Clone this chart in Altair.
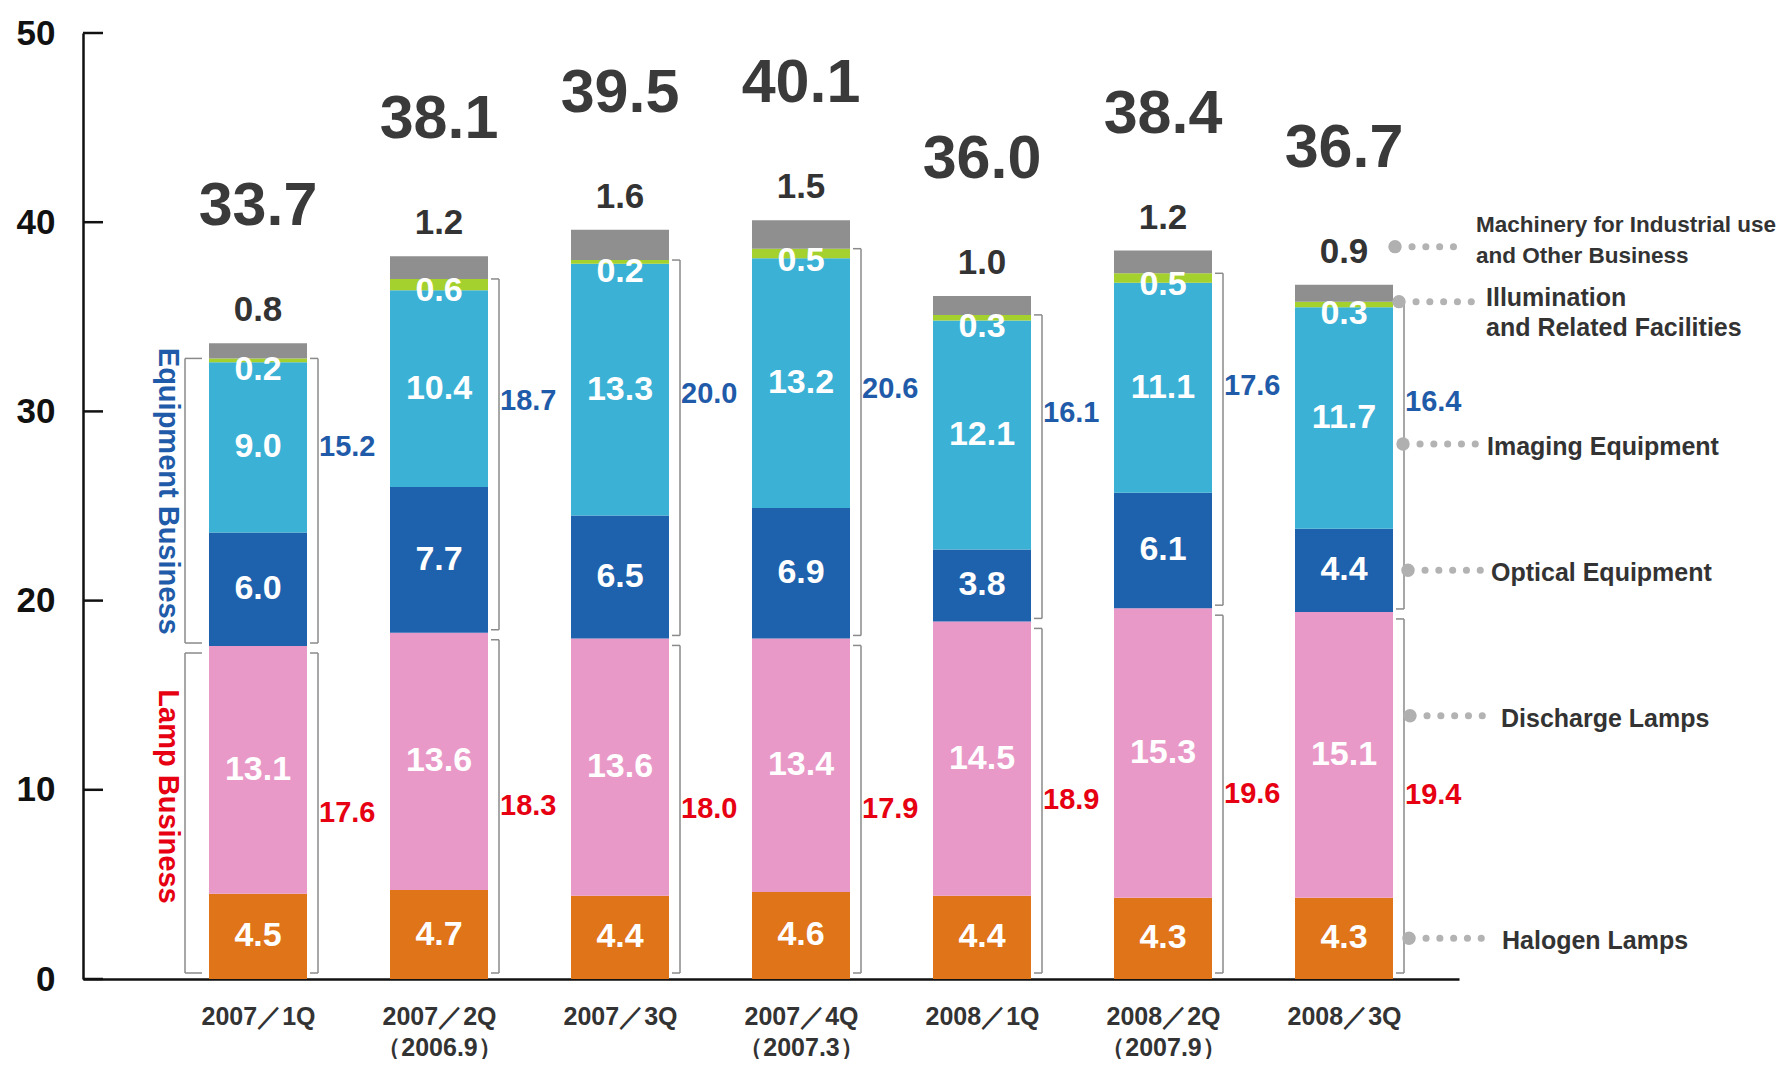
import json
import altair as alt
import pandas as pd

# ---------------- data ----------------
quarters = ["2007／1Q", "2007／2Q\n（2006.9）", "2007／3Q", "2007／4Q\n（2007.3）",
            "2008／1Q", "2008／2Q\n（2007.9）", "2008／3Q"]
segments = ["Halogen Lamps", "Discharge Lamps", "Optical Equipment", "Imaging Equipment",
            "Illumination and Related Facilities",
            "Machinery for Industrial use and Other Business"]
halogen = [4.5, 4.7, 4.4, 4.6, 4.4, 4.3, 4.3]
discharge = [13.1, 13.6, 13.6, 13.4, 14.5, 15.3, 15.1]
optical = [6.0, 7.7, 6.5, 6.9, 3.8, 6.1, 4.4]
imaging = [9.0, 10.4, 13.3, 13.2, 12.1, 11.1, 11.7]
illumination = [0.2, 0.6, 0.2, 0.5, 0.3, 0.5, 0.3]
machinery = [0.8, 1.2, 1.6, 1.5, 1.0, 1.2, 0.9]
totals = [33.7, 38.1, 39.5, 40.1, 36.0, 38.4, 36.7]
lamp_totals = [17.6, 18.3, 18.0, 17.9, 18.9, 19.6, 19.4]
equipment_totals = [15.2, 18.7, 20.0, 20.6, 16.1, 17.6, 16.4]
y_ticks = [0, 10, 20, 30, 40, 50]
legend_lines = [["Machinery for Industrial use", "and Other Business"],
                ["Illumination", "and Related Facilities"],
                ["Imaging Equipment"], ["Optical Equipment"],
                ["Discharge Lamps"], ["Halogen Lamps"]]

# ---------------- style ----------------
colors = ["#e07418", "#e999c8", "#1e62ad", "#3bb1d6", "#a5d12e", "#8f8f8f"]
FONT = "Liberation Sans"
PLOT_W, PLOT_H = 1376, 946
PX_PER_Y = PLOT_H / 50.0
PX_PER_X = 181.0
FIRST_CENTER = 175.0
X_MIN = -FIRST_CENTER / PX_PER_X
X_MAX = X_MIN + PLOT_W / PX_PER_X
HALF = 49 / PX_PER_X
BR = HALF + 11 / PX_PER_X      # bracket line
BT = HALF + 3 / PX_PER_X       # bracket tick start
GRAY = "#8a8a8a"


def ux(full_px):
    return (full_px - 83 - FIRST_CENTER) / PX_PER_X


def uy(px):
    return px / PX_PER_Y


series = [halogen, discharge, optical, imaging, illumination, machinery]
n = len(quarters)

bars, seg_labels, tops = [], [], []
for i in range(n):
    base = 0.0
    for s, vals in zip(segments, series):
        bars.append(dict(x=i - HALF, x2=i + HALF, y=base, y2=base + vals[i], seg=s))
        base += vals[i]
    tops.append(base)
    lamp = halogen[i] + discharge[i]
    seg_labels.append(dict(x=i, y=halogen[i] / 2, t=f"{halogen[i]:.1f}"))
    seg_labels.append(dict(x=i, y=halogen[i] + discharge[i] / 2, t=f"{discharge[i]:.1f}"))
    seg_labels.append(dict(x=i, y=lamp + optical[i] / 2, t=f"{optical[i]:.1f}"))
    seg_labels.append(dict(x=i, y=lamp + optical[i] + imaging[i] / 2, t=f"{imaging[i]:.1f}"))
    illum_top = lamp + optical[i] + imaging[i] + illumination[i]
    seg_labels.append(dict(x=i, y=illum_top - uy(12), t=f"{illumination[i]:.1f}"))

bars_df = pd.DataFrame(bars)
seg_df = pd.DataFrame(seg_labels)
top_df = pd.DataFrame(dict(x=list(range(n)), y=tops,
                           mach=[f"{v:.1f}" for v in machinery],
                           tot=[f"{v:.1f}" for v in totals]))

side_lamp, side_eq, vlines, hticks = [], [], [], []
for i in range(n):
    lamp = halogen[i] + discharge[i]
    illum_top = lamp + optical[i] + imaging[i] + illumination[i]
    side_lamp.append(dict(x=i + BR + 1 / PX_PER_X, y=lamp / 2, t=f"{lamp_totals[i]:.1f}"))
    side_eq.append(dict(x=i + BR + 1 / PX_PER_X, y=(lamp + illum_top) / 2,
                        t=f"{equipment_totals[i]:.1f}"))
    spans = [(uy(6), lamp - uy(7)), (lamp + uy(3), illum_top)]
    for (a, b) in spans:
        vlines.append(dict(x=i + BR, y=a, y2=b))
        hticks.append(dict(x=i + BT, x2=i + BR, y=a))
        hticks.append(dict(x=i + BT, x2=i + BR, y=b))
        if i == 0:
            vlines.append(dict(x=-HALF - 24 / PX_PER_X, y=a, y2=b))
            hticks.append(dict(x=-HALF - 24 / PX_PER_X, x2=-HALF - 7 / PX_PER_X, y=a))
            hticks.append(dict(x=-HALF - 24 / PX_PER_X, x2=-HALF - 7 / PX_PER_X, y=b))

side_lamp_df = pd.DataFrame(side_lamp)
side_eq_df = pd.DataFrame(side_eq)
vl_df = pd.DataFrame(vlines)
ht_df = pd.DataFrame(hticks)

lamp0 = halogen[0] + discharge[0]
illum0 = lamp0 + optical[0] + imaging[0] + illumination[0]
rot_df = pd.DataFrame([
    dict(x=ux(168), y=(lamp0 + illum0) / 2 + uy(11), t="Equipment Business", c="#1f5ba8"),
    dict(x=ux(168), y=lamp0 / 2 + uy(16), t="Lamp Business", c="#e60012"),
])

tick_df = pd.DataFrame(dict(y=y_ticks, x=[X_MIN] * len(y_ticks),
                            x2=[X_MIN + 20 / PX_PER_X] * len(y_ticks)))

# legend (anchored on last quarter)
k = n - 1
l_lamp = halogen[k] + discharge[k]
l_illum_top = l_lamp + optical[k] + imaging[k] + illumination[k]
anchors = [tops[k] + uy(38), l_illum_top, l_lamp + optical[k] + imaging[k] / 2 - uy(26),
           l_lamp + optical[k] / 2, halogen[k] + discharge[k] / 2 + uy(39), halogen[k] / 2]
dot_px = [1395, 1399, 1403, 1408, 1410, 1409]
text_px = [1476, 1486, 1487, 1491, 1501, 1502]
n_small = [4, 5, 5, 5, 5, 5]
line_dy = [[-22, 9], [-4, 26], [3], [3], [3], [3]]
big_text = [False, True, True, True, True, True]
DOT_STEP = 13.8
leg_dots, leg_small, leg_text = [], [], []
for j in range(len(legend_lines)):
    leg_dots.append(dict(x=ux(dot_px[j]), y=anchors[j]))
    s0 = dot_px[j] + 17
    leg_small.append(dict(x=ux(s0), x2=ux(s0 + (n_small[j] - 1) * DOT_STEP + 1), y=anchors[j]))
    for line, dy in zip(legend_lines[j], line_dy[j]):
        leg_text.append(dict(x=ux(text_px[j]), y=anchors[j] - uy(dy), t=line, big=big_text[j]))
leg_dots_df = pd.DataFrame(leg_dots)
leg_small_df = pd.DataFrame(leg_small)
leg_text_df = pd.DataFrame(leg_text)
leg_text_big = leg_text_df[leg_text_df["big"]].drop(columns="big")
leg_text_small = leg_text_df[~leg_text_df["big"]].drop(columns="big")

# ---------------- chart ----------------
xs = alt.Scale(domain=[X_MIN, X_MAX], nice=False, zero=False)
ys = alt.Scale(domain=[0, 50], nice=False, zero=False)
label_expr = json.dumps([q.split("\n") for q in quarters], ensure_ascii=False) + "[round(datum.value)]"

x_axis = alt.Axis(values=list(range(n)), labelExpr=label_expr, title=None, grid=False,
                  ticks=False, tickSize=0, domainColor="#111111", domainWidth=2.5,
                  labelFont=FONT, labelFontSize=25, labelFontWeight="bold", labelColor="#333333",
                  labelPadding=25, labelLineHeight=31, labelBaseline="top", labelAlign="center",
                  labelOverlap=False, labelFlush=False)
y_axis = alt.Axis(values=y_ticks, title=None, grid=False, ticks=False, tickSize=0,
                  domainColor="#111111", domainWidth=2.5, labelFont=FONT, labelFontSize=35,
                  labelFontWeight="bold", labelColor="#111111", labelPadding=28,
                  labelOverlap=False)


def X(f="x"):
    return alt.X(f"{f}:Q", scale=xs, axis=x_axis, title=None)


def Y(f="y"):
    return alt.Y(f"{f}:Q", scale=ys, axis=y_axis, title=None)


bar_layer = alt.Chart(bars_df).mark_bar(stroke=None).encode(
    x=X(), x2="x2:Q", y=Y(), y2="y2:Q",
    color=alt.Color("seg:N", scale=alt.Scale(domain=segments, range=colors), legend=None),
)

ytick_layer = alt.Chart(tick_df).mark_rule(color="#111111", strokeWidth=2.5).encode(
    x=X(), x2="x2:Q", y=Y())

vl_layer = alt.Chart(vl_df).mark_rule(color=GRAY, strokeWidth=1.5).encode(x=X(), y=Y(), y2="y2:Q")
ht_layer = alt.Chart(ht_df).mark_rule(color=GRAY, strokeWidth=1.5).encode(x=X(), x2="x2:Q", y=Y())

seg_text = alt.Chart(seg_df).mark_text(font=FONT, fontSize=34, fontWeight="bold", color="white",
                                       align="center", baseline="middle").encode(
    x=X(), y=Y(), text="t:N")

mach_text = alt.Chart(top_df).mark_text(font=FONT, fontSize=35, fontWeight="bold", color="#333333",
                                        align="center", baseline="middle", dy=-33).encode(
    x=X(), y=Y(), text="mach:N")

tot_text = alt.Chart(top_df).mark_text(font=FONT, fontSize=61, fontWeight="bold", color="#3a3a3a",
                                       align="center", baseline="middle", dy=-136).encode(
    x=X(), y=Y(), text="tot:N")

lamp_text = alt.Chart(side_lamp_df).mark_text(font=FONT, fontSize=29, fontWeight="bold",
                                              color="#e60012", align="left",
                                              baseline="middle").encode(
    x=X(), y=Y(), text="t:N")

eq_text = alt.Chart(side_eq_df).mark_text(font=FONT, fontSize=29, fontWeight="bold",
                                          color="#1f5ba8", align="left", baseline="middle",
                                          dy=-55).encode(
    x=X(), y=Y(), text="t:N")

rot_text = alt.Chart(rot_df).mark_text(font=FONT, fontSize=29, fontWeight="bold", angle=90,
                                       align="center", baseline="middle").encode(
    x=X(), y=Y(), text="t:N", color=alt.Color("c:N", scale=None))

leg_small_layer = alt.Chart(leg_small_df).mark_rule(color="#b3b3b3", strokeWidth=7,
                                                    strokeCap="round",
                                                    strokeDash=[0.1, DOT_STEP - 0.1]).encode(
    x=X(), x2="x2:Q", y=Y())
leg_dot_layer = alt.Chart(leg_dots_df).mark_circle(size=180, color="#b0b0b0", opacity=1).encode(
    x=X(), y=Y())
leg_text_layer_big = alt.Chart(leg_text_big).mark_text(font=FONT, fontSize=25, fontWeight="bold",
                                                       color="#333333", align="left",
                                                       baseline="middle").encode(
    x=X(), y=Y(), text="t:N")
leg_text_layer_small = alt.Chart(leg_text_small).mark_text(font=FONT, fontSize=22.5,
                                                           fontWeight="bold", color="#333333",
                                                           align="left",
                                                           baseline="middle").encode(
    x=X(), y=Y(), text="t:N")

chart = alt.layer(
    bar_layer, ytick_layer, vl_layer, ht_layer, seg_text, mach_text, tot_text,
    lamp_text, eq_text, rot_text, leg_small_layer, leg_dot_layer,
    leg_text_layer_big, leg_text_layer_small,
).properties(
    width=PLOT_W, height=PLOT_H,
    padding={"left": 75, "top": 25, "right": 323, "bottom": 80},
    autosize=alt.AutoSizeParams(type="none"),
    background="white",
).configure_view(stroke=None)

chart.save("out.html", embed_options={"renderer": "svg", "actions": False})
